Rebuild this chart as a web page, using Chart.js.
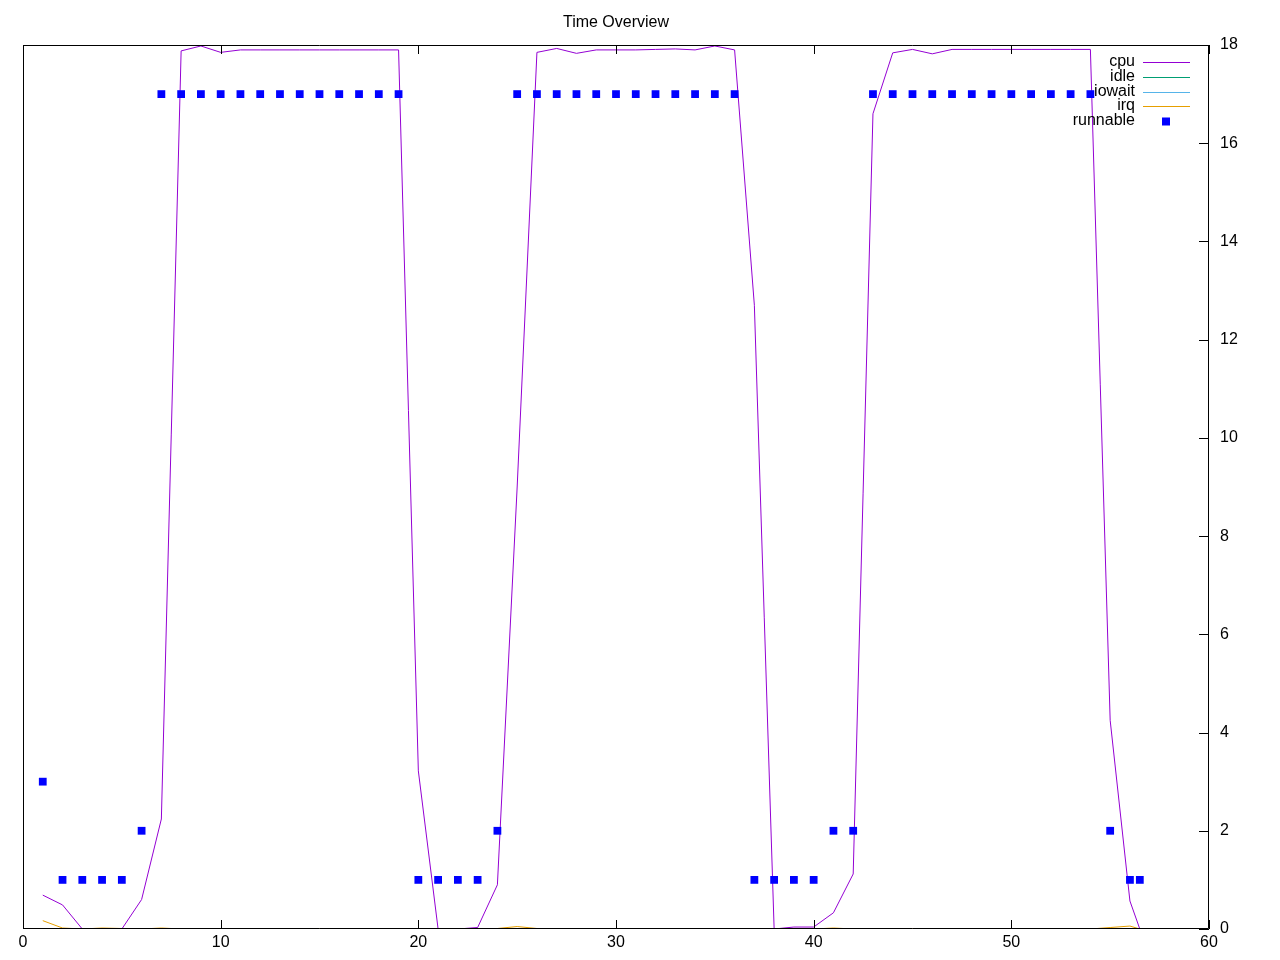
<!DOCTYPE html>
<html>
<head>
<meta charset="utf-8">
<title>Time Overview</title>
<script src="https://cdn.jsdelivr.net/npm/chart.js@4/dist/chart.umd.min.js"></script>
<style>
  html, body { margin: 0; padding: 0; background: #fff; }
  #wrap { width: 1280px; height: 960px; }
</style>
</head>
<body>
<div id="wrap"><canvas id="chart" width="1280" height="960"></canvas></div>
<script>
// sample times (x) and the series
const times = [
  1, 2, 3, 4, 5, 6, 7, 8, 9, 10, 11, 12, 13, 14, 15, 16, 17, 18, 19, 20,
  21, 22, 23, 24, 25, 26, 27, 28, 29, 30, 31, 32, 33, 34, 35, 36, 37, 38, 39, 40,
  41, 42, 43, 44, 45, 46, 47, 48, 49, 50, 51, 52, 53, 54, 55, 56, 56.5,
];
const cpu = [
  0.69, 0.49, 0, 0, 0, 0.6, 2.24, 17.88, 17.98, 17.85, 17.9, 17.9, 17.9, 17.9, 17.9, 17.9, 17.9, 17.9, 17.9, 3.22,
  0, 0, 0.03, 0.9, 9.0, 17.85, 17.93, 17.83, 17.9, 17.9, 17.9, 17.91, 17.92, 17.9, 17.98, 17.9, 12.7, 0, 0.04, 0.04,
  0.33, 1.12, 16.6, 17.84, 17.91, 17.82, 17.91, 17.91, 17.91, 17.91, 17.91, 17.91, 17.91, 17.91, 4.25, 0.57, 0,
];
const idle = [];
const iowait = [];
const irq = [
  0.17, 0.02, 0, 0.02, 0.01, 0, 0.02, 0, 0, 0, 0, 0, 0, 0, 0, 0, 0, 0, 0, 0,
  0, 0, 0, 0.01, 0.05, 0.01, 0, 0, 0, 0, 0, 0, 0, 0, 0, 0, 0, 0, 0, 0,
  0.02, 0, 0, 0, 0, 0, 0, 0, 0, 0, 0, 0, 0, 0, 0.03, 0.06, 0,
];
const runnable = [
  3, 1, 1, 1, 1, 2, 17, 17, 17, 17, 17, 17, 17, 17, 17, 17, 17, 17, 17, 1,
  1, 1, 1, 2, 17, 17, 17, 17, 17, 17, 17, 17, 17, 17, 17, 17, 1, 1, 1, 1,
  2, 2, 17, 17, 17, 17, 17, 17, 17, 17, 17, 17, 17, 17, 2, 1, 1,
];
const xTicks = [0, 10, 20, 30, 40, 50, 60];
const yTicks = [0, 2, 4, 6, 8, 10, 12, 14, 16, 18];

const FONT = "'Liberation Sans', Arial, sans-serif";
Chart.defaults.font.family = FONT;
Chart.defaults.font.size = 16;
Chart.defaults.color = "#000";

const pts = (ys) => ys.map((y, i) => ({ x: times[i], y }));

function lineSet(label, data, color, order) {
  return {
    label,
    data: pts(data),
    borderColor: color,
    backgroundColor: color,
    borderWidth: 1,
    pointRadius: 0,
    tension: 0,
    fill: false,
    clip: 0,
    order,
  };
}

// gnuplot style: border on top of the data, ticks pointing inward, key inside
const framePlugin = {
  id: "frame",
  afterDatasetsDraw(chart) {
    const { ctx, chartArea: a, scales } = chart;
    ctx.save();
    ctx.strokeStyle = "#000";
    ctx.lineWidth = 1;
    ctx.beginPath();
    ctx.rect(a.left + 0.5, a.top + 0.5, a.right - a.left - 1, a.bottom - a.top - 1);
    for (const v of xTicks) {
      const px = Math.round(scales.x.getPixelForValue(v)) + 0.5;
      ctx.moveTo(px, a.bottom);
      ctx.lineTo(px, a.bottom - 9);
      ctx.moveTo(px, a.top);
      ctx.lineTo(px, a.top + 9);
    }
    for (const v of yTicks) {
      const py = Math.round(scales.y.getPixelForValue(v)) + 0.5;
      ctx.moveTo(a.right, py);
      ctx.lineTo(a.right - 10, py);
    }
    ctx.stroke();

    ctx.font = `16px ${FONT}`;
    ctx.textAlign = "right";
    ctx.textBaseline = "alphabetic";
    chart.data.datasets.forEach((ds, i) => {
      const base = 66 + i * 14.75;
      ctx.fillStyle = "#000";
      ctx.fillText(ds.label, 1135, base);
      const cy = Math.round(base - 4) + 0.5;
      if (ds.showLine === false) {
        ctx.fillStyle = ds.backgroundColor;
        ctx.fillRect(1162, cy - 4, 8, 8);
      } else {
        ctx.strokeStyle = ds.borderColor;
        ctx.beginPath();
        ctx.moveTo(1143, cy);
        ctx.lineTo(1190, cy);
        ctx.stroke();
      }
    });
    ctx.restore();
  },
};

new Chart(document.getElementById("chart"), {
  type: "line",
  data: {
    datasets: [
      lineSet("cpu", cpu, "#9400d3", 5),
      lineSet("idle", idle, "#009e73", 4),
      lineSet("iowait", iowait, "#56b4e9", 3),
      lineSet("irq", irq, "#e69f00", 2),
      {
        label: "runnable",
        data: pts(runnable),
        showLine: false,
        pointStyle: "rect",
        pointRadius: 5.5,
        pointBorderWidth: 0,
        backgroundColor: "#0000ff",
        borderColor: "#0000ff",
        order: 1,
      },
    ],
  },
  options: {
    responsive: false,
    animation: false,
    devicePixelRatio: 1,
    layout: { padding: { left: 23, top: 0, right: 0, bottom: 0 } },
    plugins: {
      legend: { display: false },
      tooltip: { enabled: false },
      title: {
        display: true,
        text: "Time Overview",
        fullSize: false,
        color: "#000",
        font: { size: 16, weight: "normal" },
        padding: { top: 13.4, bottom: 12.4 },
      },
    },
    scales: {
      x: {
        type: "linear",
        min: 0,
        max: 60,
        grid: { display: false, drawTicks: false },
        border: { display: false },
        ticks: { padding: 4, color: "#000" },
        afterBuildTicks: (s) => { s.ticks = xTicks.map((value) => ({ value })); },
        afterFit: (s) => { s.height = 31; },
      },
      y: {
        position: "right",
        min: 0,
        max: 18,
        grid: { display: false, drawTicks: false },
        border: { display: false },
        ticks: { padding: 11, color: "#000" },
        afterBuildTicks: (s) => { s.ticks = yTicks.map((value) => ({ value })); },
        afterFit: (s) => { s.width = 71; },
      },
    },
  },
  plugins: [framePlugin],
});
</script>
</body>
</html>
